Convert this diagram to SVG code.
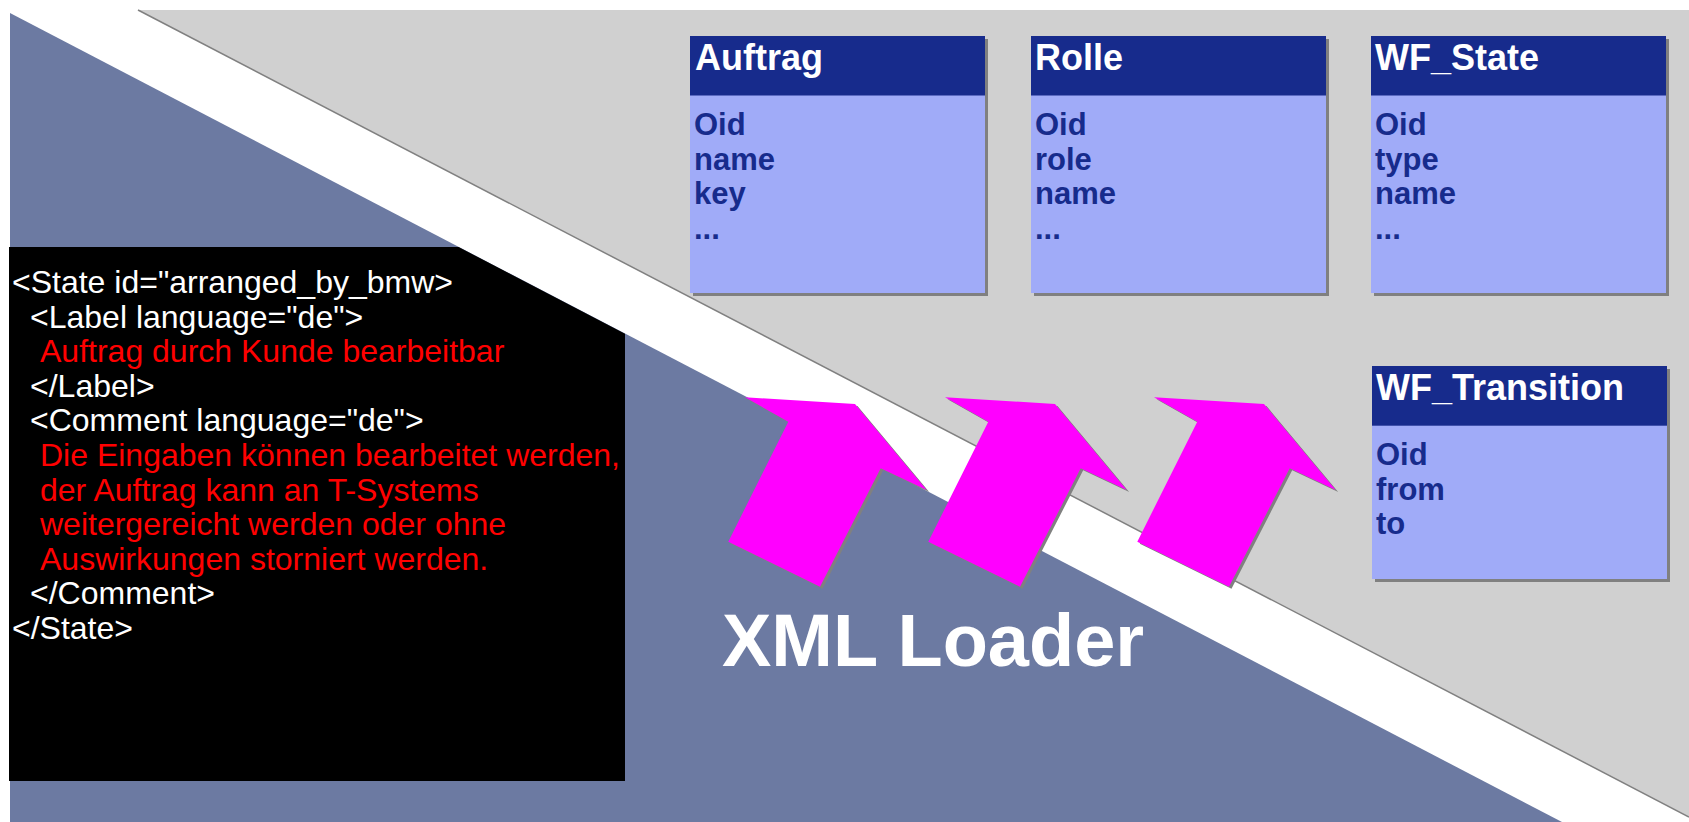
<svg xmlns="http://www.w3.org/2000/svg" xmlns:xlink="http://www.w3.org/1999/xlink" width="1689" height="822" viewBox="0 0 1689 822">
<style>
  .code { font-family: "Liberation Sans", Arial, Helvetica, sans-serif; font-size: 32px; }
  .tag { fill: #ffffff; }
  .txt { fill: #ff0000; }
  .hdr { fill: #172b8c; }
  .body { fill: #a0abf8; }
  .shadow { fill: #808080; }
  .title { font-family: "Liberation Sans", Arial, Helvetica, sans-serif; font-size: 36px; font-weight: bold; fill: #ffffff; }
  .field { font-family: "Liberation Sans", Arial, Helvetica, sans-serif; font-size: 31px; font-weight: bold; fill: #172b8c; }
  .loader { font-family: "Liberation Sans", Arial, Helvetica, sans-serif; font-size: 74px; font-weight: bold; fill: #ffffff; }
  .arrow { fill: #ff00ff; }
</style>
<defs>
  <polygon id="arrowShape" points="745,397.3 855,404 926.7,490 880.7,468.3 820,586.7 728.3,541.7 788.3,421.7"/>
</defs>
<rect width="1689" height="822" fill="#ffffff"/>
<g id="background">
  <polygon points="138,10 1689,10 1689,817" fill="#d0d0d0"/>
  <line x1="138" y1="10" x2="1689" y2="817" stroke="#808080" stroke-width="1.5"/>
  <polygon points="10,13 1562,822 10,822" fill="#6c7aa2"/>
</g>
<g id="xml-source">
  <polygon points="9,247 458.6,247 625,333.7 625,781 9,781" fill="#000000"/>
  <text class="code tag" x="12" y="293">&lt;State id="arranged_by_bmw&gt;</text>
  <text class="code tag" x="30" y="327.6">&lt;Label language="de"&gt;</text>
  <text class="code txt" x="40" y="362.2">Auftrag durch Kunde bearbeitbar</text>
  <text class="code tag" x="30" y="396.8">&lt;/Label&gt;</text>
  <text class="code tag" x="30" y="431.4">&lt;Comment language="de"&gt;</text>
  <text class="code txt" x="40" y="466">Die Eingaben können bearbeitet werden,</text>
  <text class="code txt" x="40" y="500.6">der Auftrag kann an T-Systems</text>
  <text class="code txt" x="40" y="535.2">weitergereicht werden oder ohne</text>
  <text class="code txt" x="40" y="569.8">Auswirkungen storniert werden.</text>
  <text class="code tag" x="30" y="604.4">&lt;/Comment&gt;</text>
  <text class="code tag" x="12" y="639">&lt;/State&gt;</text>
</g>
<g id="auftrag">
  <rect class="shadow" x="693" y="39" width="295" height="257"/>
  <rect class="body" x="690" y="36" width="295" height="257"/>
  <rect class="hdr" x="690" y="36" width="295" height="59.5"/>
  <text class="title" x="695" y="70">Auftrag</text>
  <text class="field" x="694" y="135">Oid</text>
  <text class="field" x="694" y="169.5">name</text>
  <text class="field" x="694" y="204">key</text>
  <text class="field" x="694" y="238.5">...</text>
</g>
<g id="rolle">
  <rect class="shadow" x="1034" y="39" width="295" height="257"/>
  <rect class="body" x="1031" y="36" width="295" height="257"/>
  <rect class="hdr" x="1031" y="36" width="295" height="59.5"/>
  <text class="title" x="1035" y="70">Rolle</text>
  <text class="field" x="1035" y="135">Oid</text>
  <text class="field" x="1035" y="169.5">role</text>
  <text class="field" x="1035" y="204">name</text>
  <text class="field" x="1035" y="238.5">...</text>
</g>
<g id="wf-state">
  <rect class="shadow" x="1374" y="39" width="295" height="257"/>
  <rect class="body" x="1371" y="36" width="295" height="257"/>
  <rect class="hdr" x="1371" y="36" width="295" height="59.5"/>
  <text class="title" x="1375" y="70">WF_State</text>
  <text class="field" x="1375" y="135">Oid</text>
  <text class="field" x="1375" y="169.5">type</text>
  <text class="field" x="1375" y="204">name</text>
  <text class="field" x="1375" y="238.5">...</text>
</g>
<g id="wf-transition">
  <rect class="shadow" x="1375" y="369" width="295" height="213"/>
  <rect class="body" x="1372" y="366" width="295" height="213"/>
  <rect class="hdr" x="1372" y="366" width="295" height="59.7"/>
  <text class="title" x="1376" y="400">WF_Transition</text>
  <text class="field" x="1376" y="465">Oid</text>
  <text class="field" x="1376" y="499.5">from</text>
  <text class="field" x="1376" y="534">to</text>
</g>
<g id="connectors">
  <use xlink:href="#arrowShape" class="shadow" transform="translate(2.5,2)"/>
  <use xlink:href="#arrowShape" class="arrow"/>
  <use xlink:href="#arrowShape" class="shadow" transform="translate(202.5,2)"/>
  <use xlink:href="#arrowShape" class="arrow" transform="translate(200,0)"/>
  <use xlink:href="#arrowShape" class="shadow" transform="translate(411.5,2)"/>
  <use xlink:href="#arrowShape" class="arrow" transform="translate(409,0)"/>
</g>
<g id="xml-loader">
  <text class="loader" x="722" y="666">XML Loader</text>
</g>
</svg>
